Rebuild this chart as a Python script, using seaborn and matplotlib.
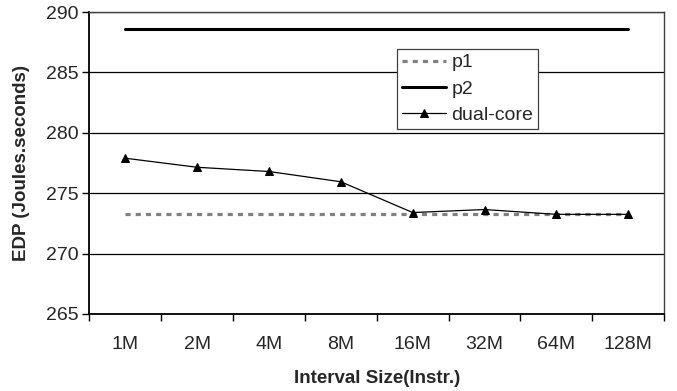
import pandas as pd
import matplotlib
matplotlib.use("Agg")
import matplotlib.pyplot as plt
import seaborn as sns

# data
intervals = ['1M', '2M', '4M', '8M', '16M', '32M', '64M', '128M']
p1 = [273.25] * 8
p2 = [288.6] * 8
dual_core = [277.9, 277.15, 276.8, 275.95, 273.4, 273.65, 273.25, 273.25]

df = pd.DataFrame({'Interval': intervals, 'p1': p1, 'p2': p2, 'dual-core': dual_core})

sns.set_style('white')
plt.rcParams['font.family'] = ['Liberation Sans', 'DejaVu Sans']

fig, ax = plt.subplots(figsize=(6.77, 3.91), dpi=100)
fig.subplots_adjust(left=0.132, right=0.981, top=0.969, bottom=0.197)

sns.lineplot(data=df, x='Interval', y='p1', ax=ax, color='#808080',
             linewidth=2.3, linestyle=(0, (1.6, 1.6)), label='p1', sort=False)
sns.lineplot(data=df, x='Interval', y='p2', ax=ax, color='black',
             linewidth=2.2, label='p2', sort=False)
sns.lineplot(data=df, x='Interval', y='dual-core', ax=ax, color='black',
             linewidth=0.9, marker='^', markersize=5.5, markeredgecolor='black',
             label='dual-core', sort=False)

ax.set_xlim(-0.5, 7.5)
ax.set_ylim(265, 290)
ax.set_yticks([265, 270, 275, 280, 285, 290])
ax.yaxis.grid(True, color='black', linewidth=0.9)
ax.set_axisbelow(True)

# category labels centred, tick marks at bin edges
ax.set_xticks(range(8))
ax.set_xticklabels(intervals)
ax.set_xticks([i - 0.5 for i in range(9)], minor=True)
ax.tick_params(axis='x', which='major', length=0, pad=16, labelsize=14)
ax.tick_params(axis='x', which='minor', length=5, width=1, direction='out', color='black')
ax.tick_params(axis='y', length=5, width=1, direction='out', color='black', labelsize=14, pad=3)
ax.xaxis.set_tick_params(bottom=True, which='minor')
ax.yaxis.set_tick_params(left=True)

for side in ['left', 'bottom']:
    ax.spines[side].set_color('black')
    ax.spines[side].set_linewidth(1.3)
for side in ['top', 'right']:
    ax.spines[side].set_color('#404040')
    ax.spines[side].set_linewidth(1.0)

ax.set_xlabel('Interval Size(Instr.)', fontsize=13.5, fontweight='bold', labelpad=12)
ax.set_ylabel('EDP (Joules.seconds)', fontsize=13.5, fontweight='bold', labelpad=11)

leg = ax.legend(loc='upper left', bbox_to_anchor=(0.535, 0.878), frameon=True,
                fancybox=False, framealpha=1, edgecolor='#404040', fontsize=14,
                handlelength=2.3, handletextpad=0.25, borderpad=0.25, labelspacing=0.45,
                borderaxespad=0)
leg.get_frame().set_linewidth(0.9)

fig.savefig('out.png', dpi=100)
